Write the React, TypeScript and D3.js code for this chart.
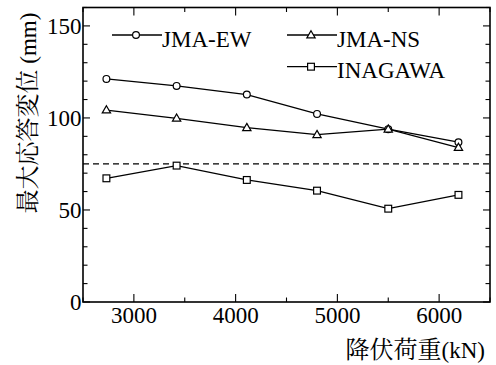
import React, { useEffect, useState } from "react";
import * as d3 from "d3";

const loads = [2730, 3420, 4110, 4800, 5500, 6190];
const jmaEW = [121.2, 117.4, 112.7, 102.2, 93.9, 86.8];
const jmaNS = [104.3, 99.8, 94.7, 90.9, 93.9, 83.9];
const inagawa = [67.2, 74.1, 66.3, 60.5, 50.7, 58.2];
const refLine = 75;
const xTicks = [3000, 4000, 5000, 6000];
const yTicks = [0, 50, 100, 150];
const seriesNames = ["JMA-EW", "JMA-NS", "INAGAWA"];

const W = 496, H = 365;
const L = 83, T = 7.5, R = 490, B = 302;
const SERIF = "Liberation Serif";
const CJK = "Noto Serif CJK JP";

function Marker({ type, x, y }: { type: string; x: number; y: number }) {
  const sw = 1.2;
  if (type === "circle") return <circle cx={x} cy={y} r={3.4} fill="#fff" stroke="#000" strokeWidth={sw} />;
  if (type === "triangle") {
    const s = d3.symbol().type(d3.symbolTriangle).size(30)();
    return <path d={s as string} transform={`translate(${x},${y + 0.5})`} fill="#fff" stroke="#000" strokeWidth={sw} />;
  }
  return <rect x={x - 3.4} y={y - 3.4} width={6.8} height={6.8} fill="#fff" stroke="#000" strokeWidth={sw} />;
}

export default function App() {
  const [ready, setReady] = useState(0);
  useEffect(() => {
    const fs: any = (document as any).fonts;
    if (fs && fs.load) {
      Promise.all([
        fs.load(`23px "${SERIF}"`, "JMA-EW 3000"),
        fs.load(`24px "${CJK}"`, "降伏荷重"),
      ])
        .then(() => setReady(1))
        .catch(() => setReady(1));
    }
  }, []);

  const x = d3.scaleLinear().domain([2500, 6500]).range([L, R]);
  const y = d3.scaleLinear().domain([0, 160]).range([B, T]);
  const line = d3.line<number>().x((_, i) => x(loads[i])).y((d) => y(d));
  const series = [
    { vals: jmaEW, type: "circle" },
    { vals: jmaNS, type: "triangle" },
    { vals: inagawa, type: "square" },
  ];
  const xMinor = d3.range(2500, 6501, 500);
  const yMinor = d3.range(0, 161, 10);
  const legend = [
    { lx: 112, ly: 35, name: seriesNames[0], type: "circle" },
    { lx: 287, ly: 35, name: seriesNames[1], type: "triangle" },
    { lx: 287, ly: 66.7, name: seriesNames[2], type: "square" },
  ];
  const serif = { fontFamily: SERIF };
  return (
    <svg key={ready} width={W} height={H} style={{ position: "absolute", left: 0, top: 0, fontFamily: SERIF }}>
      <style>{`.lat { font-family: "Liberation Serif", "Times New Roman", serif; } .cjk { font-family: "Noto Serif CJK JP", serif; }`}</style>
      <rect x={0} y={0} width={W} height={H} fill="#fff" />
      {xMinor.map((v) => {
        const major = v % 1000 === 0;
        const len = major ? 8 : 4.5;
        return (
          <g key={"xt" + v} stroke="#000" strokeWidth={1.1}>
            <line x1={x(v)} x2={x(v)} y1={B} y2={B - len} />
            <line x1={x(v)} x2={x(v)} y1={T} y2={T + len} />
          </g>
        );
      })}
      {yMinor.map((v) => {
        const major = v % 50 === 0;
        const len = major ? 7 : 4.5;
        return (
          <g key={"yt" + v} stroke="#000" strokeWidth={1.1}>
            <line x1={L} x2={L + len} y1={y(v)} y2={y(v)} />
            <line x1={R} x2={R - len} y1={y(v)} y2={y(v)} />
          </g>
        );
      })}
      <rect x={L} y={T} width={R - L} height={B - T} fill="none" stroke="#000" strokeWidth={1.6} />
      {xTicks.map((v) => (
        <text key={"xl" + v} className="lat" x={x(v)} y={323} textAnchor="middle" fontFamily={SERIF} style={serif} fontSize={23}>
          {String(v)}
        </text>
      ))}
      {yTicks.map((v) => (
        <text key={"yl" + v} className="lat" x={81.5} y={y(v) + 8} textAnchor="end" fontFamily={SERIF} style={serif} fontSize={23}>
          {String(v)}
        </text>
      ))}
      <line x1={L} x2={R} y1={y(refLine)} y2={y(refLine)} stroke="#000" strokeWidth={1.2} strokeDasharray="6,4" />
      {series.map((s, si) => (
        <g key={"s" + si}>
          <path d={line(s.vals) as string} fill="none" stroke="#000" strokeWidth={1.3} />
          {s.vals.map((v, i) => (
            <Marker key={i} type={s.type} x={x(loads[i])} y={y(v)} />
          ))}
        </g>
      ))}
      {legend.map((l) => (
        <g key={l.name}>
          <line x1={l.lx} x2={l.lx + 50} y1={l.ly} y2={l.ly} stroke="#000" strokeWidth={1.3} />
          <Marker type={l.type} x={l.lx + 24} y={l.ly} />
          <text className="lat" x={l.lx + 50} y={l.ly + 11.5} fontFamily={SERIF} style={serif} fontSize={23}>
            {l.name}
          </text>
        </g>
      ))}
      <text className="lat" x={485} y={358} textAnchor="end" fontFamily={SERIF} style={serif} fontSize={23}>
        <tspan className="cjk" style={{ fontFamily: CJK }} fontSize={24}>降伏荷重</tspan>
        <tspan>(kN)</tspan>
      </text>
      <text className="lat" transform="translate(36,113) rotate(-90)" textAnchor="middle" fontFamily={SERIF} style={serif} fontSize={23}>
        <tspan className="cjk" style={{ fontFamily: CJK }} fontSize={24}>最大応答変位</tspan>
        <tspan> (mm)</tspan>
      </text>
    </svg>
  );
}
